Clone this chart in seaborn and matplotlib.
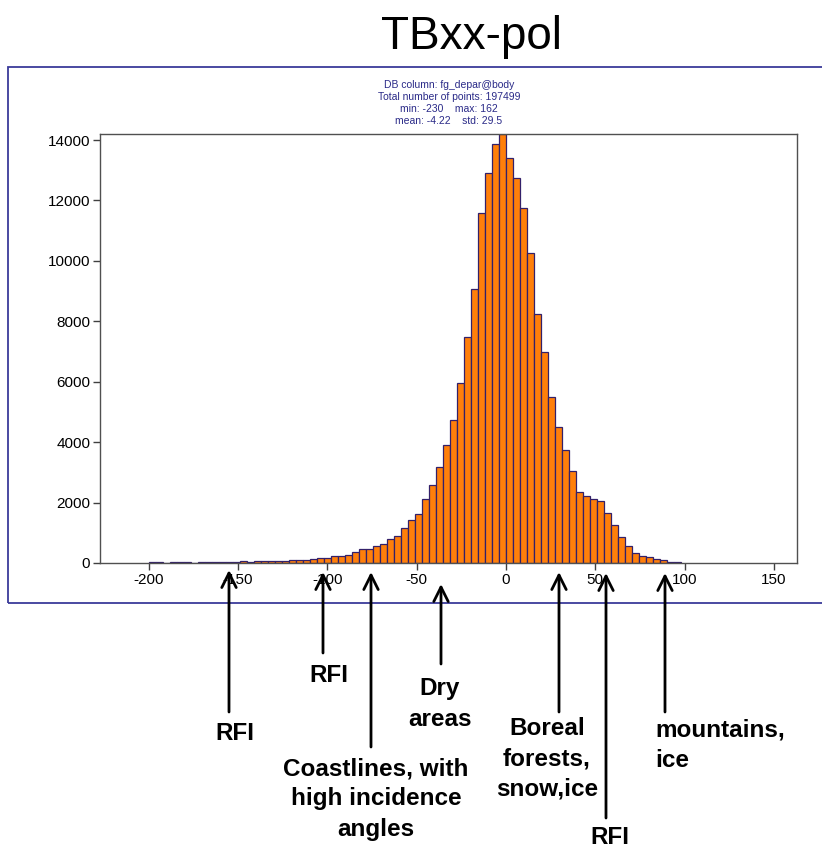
import numpy as np
import pandas as pd
import matplotlib
matplotlib.use("Agg")
import matplotlib.pyplot as plt
from matplotlib.patches import Rectangle
import seaborn as sns

# ---------------- data ----------------
bin_width = 3.92
bin_index = list(range(-51, 25))          # bin k covers [k*w, (k+1)*w]
counts = [
    25, 25, 0, 25, 25, 25, 0, 25, 25, 25, 25, 25, 25,        # -51 .. -39
    70, 45, 60, 60, 65, 70, 75,                               # -38 .. -32
    115, 95, 110, 140, 150, 175, 230, 235, 270, 360,          # -31 .. -22
    465, 455, 550, 640, 780, 910, 1170,                       # -21 .. -15
    1420, 1610, 2120, 2570, 3170, 3900, 4740, 5970, 7490,     # -14 .. -6
    9060, 11580, 12900, 13870, 14200,                         # -5 .. -1
    13420, 12750, 11760, 10250, 8230, 6970, 5490, 4490,       # 0 .. 7
    3730, 3060, 2350, 2230, 2120, 2050, 1650, 1260, 870,      # 8 .. 16
    570, 340, 230, 190, 140, 100, 45, 35,                     # 17 .. 24
]
x_ticks = [-200, -150, -100, -50, 0, 50, 100, 150]
y_ticks = [0, 2000, 4000, 6000, 8000, 10000, 12000, 14000]

title = "TBxx-pol"
header_lines = [
    "DB column: fg_depar@body",
    "Total number of points: 197499",
    "min: -230    max: 162",
    "mean: -4.22    std: 29.5",
]
annotations = [
    # (text, arrow_x, tip_y, tail_y, text_x, text_y, ha)
    ("RFI", 229, 570, 712, 235, 734, "center"),
    ("RFI", 323, 572, 653, 329, 676, "center"),
    ("Coastlines, with\nhigh incidence\nangles", 371, 572, 747, 376, 799, "center"),
    ("Dry\nareas", 441, 584, 664, 440, 704, "center"),
    ("Boreal\nforests,\nsnow,ice", 559, 572, 712, 547, 759, "center"),
    ("RFI", 606, 573, 818, 610, 838, "center"),
    ("mountains,\nice", 665, 573, 712, 655, 745, "left"),
]

# ---------------- figure ----------------
sns.set_style("ticks")
plt.rcParams["font.family"] = ["Liberation Sans", "DejaVu Sans"]
plt.rcParams["axes.unicode_minus"] = False

W, H = 822, 850
fig = plt.figure(figsize=(W / 100, H / 100), dpi=100)
fig.patch.set_facecolor("white")

def fx(px):
    return px / W

def fy(py):
    return 1 - py / H

ax_left, ax_right, ax_top, ax_bottom = 100, 797, 134, 563
ax = fig.add_axes([fx(ax_left), fy(ax_bottom), (ax_right - ax_left) / W,
                   (ax_bottom - ax_top) / H])

edges = [float(k * bin_width) for k in bin_index + [bin_index[-1] + 1]]
centers = [float((k + 0.5) * bin_width) for k in bin_index]
df = pd.DataFrame({"value": centers, "count": counts})

sns.histplot(data=df, x="value", weights="count", bins=edges, ax=ax,
             color="#FF7F0A", edgecolor="#33206A", linewidth=0.9, alpha=1.0)

ax.set_xlim(-227.3, 162.9)
ax.set_ylim(0, 14200)
ax.set_xticks(x_ticks)
ax.set_yticks(y_ticks)
ax.set_xlabel("")
ax.set_ylabel("")
ax.tick_params(axis="both", direction="out", length=5, width=1,
               color="#404040", labelsize=11, labelcolor="black", pad=2)
for s in ax.spines.values():
    s.set_visible(True)
    s.set_color("#505050")
    s.set_linewidth(1.0)

# outer blue frame
fig.patches.append(Rectangle((fx(8), fy(603)), 1.2, (603 - 67) / H,
                             transform=fig.transFigure, fill=False,
                             edgecolor="#3A3A9A", linewidth=1.3, clip_on=False))

# title
fig.text(fx(471), fy(37), title, ha="center", va="center", fontsize=33,
         color="black")

# header info text
for i, line in enumerate(header_lines):
    fig.text(fx(449), fy(85.5 + i * 12), line, ha="center", va="center",
             fontsize=7.5, color="#2A2A88")

# arrows and labels
for text, axx, tip, tail, tx, ty, ha in annotations:
    fig.add_artist(plt.Annotation(
        "", xy=(fx(axx), fy(tip)), xytext=(fx(axx), fy(tail)),
        xycoords="figure fraction", textcoords="figure fraction",
        arrowprops=dict(arrowstyle="->", lw=2, color="black",
                        mutation_scale=26, shrinkA=0, shrinkB=0)))
    fig.text(fx(tx), fy(ty), text, ha=ha, va="center", fontsize=17.5,
             fontweight="bold", linespacing=1.4, color="black",
             multialignment=ha)

fig.savefig("out.png", dpi=100, facecolor="white")
